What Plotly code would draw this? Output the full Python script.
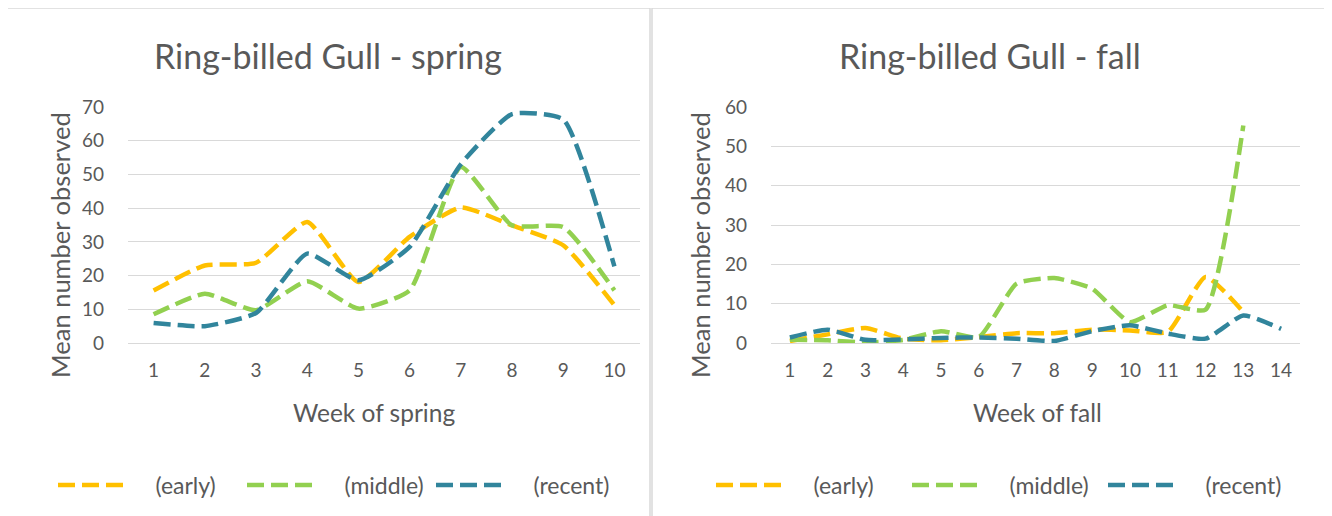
import plotly.graph_objects as go

# The page body adds an 8px margin, so the figure is drawn 8px smaller and
# all reference pixel positions are converted with that offset.
OFF = 8
W, H = 1332 - OFF, 516 - OFF


def px(x):
    return (x - OFF) / W


def py(y):
    return 1 - (y - OFF) / H


spring_weeks = list(range(1, 11))
spring_early = [15.6, 23.0, 23.8, 35.9, 18.1, 31.5, 40.2, 34.9, 29.0, 11.2]
spring_middle = [8.5, 14.6, 9.7, 18.3, 10.2, 15.6, 52.2, 34.9, 34.4, 15.6]
spring_recent = [5.9, 5.0, 8.9, 26.5, 18.6, 28.5, 53.0, 67.9, 66.3, 22.7]

fall_weeks = list(range(1, 15))
fall_early = [0.5, 2.2, 3.8, 1.1, 0.7, 1.5, 2.5, 2.5, 3.4, 3.2, 2.8, 16.8, 7.9]
fall_middle = [0.8, 0.7, 0.1, 0.8, 3.0, 1.5, 15.1, 16.5, 13.8, 5.3, 9.6, 8.5, 55.3]
fall_recent = [1.4, 3.4, 0.8, 0.9, 1.3, 1.4, 1.1, 0.5, 3.0, 4.5, 2.4, 1.1, 7.0, 3.6]

series_names = ["(early)", "(middle)", "(recent)"]
colors = ["#FFC000", "#92D050", "#31859C"]

spring_y_ticks = [0, 10, 20, 30, 40, 50, 60, 70]
fall_y_ticks = [0, 10, 20, 30, 40, 50, 60]

FONT = "Lato"
GRAY = "#595959"
GRID = "#D9D9D9"
DASH = "17px,7px"
PAD = "\u00a0" * 4 + "\u2009"

fig = go.Figure()

for name, ys, c in zip(series_names, [spring_early, spring_middle, spring_recent], colors):
    fig.add_trace(go.Scatter(
        x=spring_weeks[:len(ys)], y=ys, name=PAD + name, mode="lines",
        line=dict(color=c, width=4.5, dash=DASH, shape="spline", smoothing=0.5),
        xaxis="x", yaxis="y", legend="legend", hoverinfo="x+y"))

for name, ys, c in zip(series_names, [fall_early, fall_middle, fall_recent], colors):
    fig.add_trace(go.Scatter(
        x=fall_weeks[:len(ys)], y=ys, name=PAD + name, mode="lines",
        line=dict(color=c, width=4.5, dash=DASH, shape="spline", smoothing=0.5),
        xaxis="x2", yaxis="y2", legend="legend2", hoverinfo="x+y"))

ydom = [py(343), py(107)]

common_x = dict(
    showgrid=False, showline=True, linecolor=GRID, linewidth=1,
    ticks="", tickfont=dict(family=FONT, size=19, color=GRAY),
    ticklabelstandoff=10, zeroline=False, fixedrange=True, automargin=False,
)
common_y = dict(
    showgrid=True, gridcolor=GRID, gridwidth=1, showline=False,
    ticks="", tickfont=dict(family=FONT, size=19, color=GRAY),
    ticklabelstandoff=23, zeroline=False, fixedrange=True, automargin=False,
)

legend_common = dict(orientation="h", y=py(485), yanchor="middle", xanchor="left",
                     font=dict(family=FONT, size=23, color=GRAY),
                     itemwidth=66, bgcolor="rgba(0,0,0,0)")

fig.update_layout(
    template="none",
    width=W, height=H,
    margin=dict(l=0, r=0, t=0, b=0, autoexpand=False),
    paper_bgcolor="white", plot_bgcolor="white",
    font=dict(family=FONT, color=GRAY),
    xaxis=dict(domain=[px(128), px(640)], range=[0.5, 10.5],
               tickvals=spring_weeks, ticktext=[str(v) for v in spring_weeks],
               anchor="y", **common_x),
    yaxis=dict(domain=ydom, range=[0, 70], tickvals=spring_y_ticks,
               anchor="x", **common_y),
    xaxis2=dict(domain=[px(771), px(1300)], range=[0.5, 14.5],
                tickvals=fall_weeks, ticktext=[str(v) for v in fall_weeks],
                anchor="y2", **common_x),
    yaxis2=dict(domain=ydom, range=[0, 60], tickvals=fall_y_ticks,
                anchor="x2", **common_y),
    legend=dict(x=px(53), entrywidth=108, **legend_common),
    legend2=dict(x=px(711), entrywidth=115, **legend_common),
    showlegend=True,
)

ann = []
ann.append(dict(text="Ring-billed Gull - spring", x=px(328), y=py(55),
                font=dict(family=FONT, size=34, color=GRAY)))
ann.append(dict(text="Ring-billed Gull - fall", x=px(990), y=py(55),
                font=dict(family=FONT, size=34, color=GRAY)))
ann.append(dict(text="Mean number observed", x=px(60), y=py(245), textangle=-90,
                font=dict(family=FONT, size=25.5, color=GRAY)))
ann.append(dict(text="Mean number observed", x=px(700), y=py(245), textangle=-90,
                font=dict(family=FONT, size=25.5, color=GRAY)))
ann.append(dict(text="Week of spring", x=px(374), y=py(412),
                font=dict(family=FONT, size=24.5, color=GRAY)))
ann.append(dict(text="Week of fall", x=px(1037), y=py(412),
                font=dict(family=FONT, size=24.5, color=GRAY)))
for a in ann:
    a.update(xref="paper", yref="paper", showarrow=False,
             xanchor="center", yanchor="middle")
fig.update_layout(annotations=ann)

fig.update_layout(shapes=[
    dict(type="rect", xref="paper", yref="paper", x0=px(3), x1=px(650),
         y0=-0.05, y1=py(8), line=dict(color=GRID, width=1.5)),
    dict(type="rect", xref="paper", yref="paper", x0=px(652), x1=px(1330),
         y0=-0.05, y1=py(8), line=dict(color=GRID, width=1.5)),
])

fig.write_html("out.html")
